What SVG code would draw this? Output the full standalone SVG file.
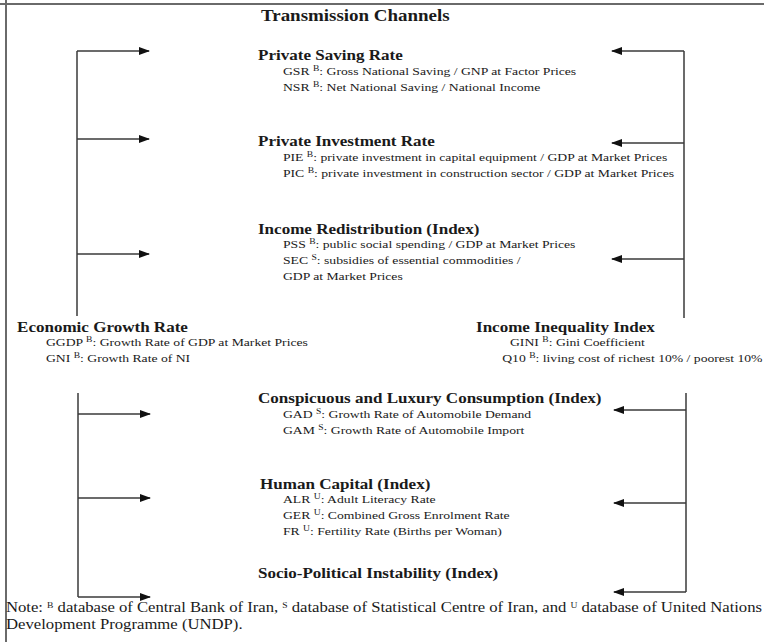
<svg xmlns="http://www.w3.org/2000/svg" width="764" height="642" viewBox="0 0 764 642">
<style>
text{font-family:"Liberation Serif","Times New Roman",serif;fill:#1a1a1a}
.t{font-size:15.8px;font-weight:bold}
.h{font-size:14.2px;font-weight:bold}
.s{font-size:11.4px}
.n{font-size:13.9px}
.sup{font-size:8px}
.ln{stroke:#3a3a3a;stroke-width:1.5;fill:none}
.ar{stroke:#3a3a3a;stroke-width:1.5;fill:none;marker-end:url(#ah)}
.bd{stroke:#6a6a6a;stroke-width:2;fill:none}
</style>
<defs>
<marker id="ah" markerUnits="userSpaceOnUse" markerWidth="11" markerHeight="9" refX="10" refY="4.5" orient="auto">
<path d="M0,0.5 L11,4.5 L0,8.5 z" fill="#111"/>
</marker>
</defs>
<rect width="764" height="642" fill="#fff"/>
<g id="border">
<path class="bd" d="M0,4 H764"/>
<path class="bd" d="M6,0 V642"/>
</g>
<g id="connectors">
<path class="ln" d="M77,51 V316"/>
<path class="ar" d="M77,51 H149"/>
<path class="ar" d="M77,139 H149"/>
<path class="ar" d="M77,254 H149"/>
<path class="ln" d="M684,51 V318"/>
<path class="ar" d="M684,51 H612"/>
<path class="ar" d="M684,143 H612"/>
<path class="ar" d="M684,259 H612"/>
<path class="ln" d="M78,393 V597"/>
<path class="ar" d="M78,414 H150"/>
<path class="ar" d="M78,498 H150"/>
<path class="ar" d="M78,597 H150"/>
<path class="ln" d="M686,393 V592"/>
<path class="ar" d="M686,410 H614"/>
<path class="ar" d="M686,503 H614"/>
<path class="ar" d="M686,592 H614"/>
</g>
<g id="title" transform="scale(1.2 1)">
<text class="t" x="217.5" y="21">Transmission Channels</text>
</g>
<g id="private-saving" transform="scale(1.2 1)">
<text class="h" x="215" y="60">Private Saving Rate</text>
<text class="s" x="235.8" y="75">GSR <tspan class="sup" dy="-4">B</tspan><tspan dy="4">: Gross National Saving  / GNP at Factor Prices</tspan></text>
<text class="s" x="235.8" y="91">NSR <tspan class="sup" dy="-4">B</tspan><tspan dy="4">: Net National Saving / National Income</tspan></text>
</g>
<g id="private-investment" transform="scale(1.2 1)">
<text class="h" x="215" y="146">Private Investment Rate</text>
<text class="s" x="235.8" y="161">PIE <tspan class="sup" dy="-4">B</tspan><tspan dy="4">: private investment in capital equipment / GDP at Market Prices</tspan></text>
<text class="s" x="235.8" y="177">PIC <tspan class="sup" dy="-4">B</tspan><tspan dy="4">: private investment in construction sector / GDP at Market Prices</tspan></text>
</g>
<g id="income-redistribution" transform="scale(1.2 1)">
<text class="h" x="215" y="234">Income Redistribution (Index)</text>
<text class="s" x="235.8" y="248">PSS <tspan class="sup" dy="-4">B</tspan><tspan dy="4">: public social spending / GDP at Market Prices</tspan></text>
<text class="s" x="235.8" y="264">SEC <tspan class="sup" dy="-4">S</tspan><tspan dy="4">: subsidies of essential commodities /</tspan></text>
<text class="s" x="235.8" y="280">GDP at Market Prices</text>
</g>
<g id="economic-growth" transform="scale(1.2 1)">
<text class="h" x="14.2" y="332">Economic Growth Rate</text>
<text class="s" x="38.3" y="346">GGDP <tspan class="sup" dy="-4">B</tspan><tspan dy="4">: Growth Rate of GDP at Market Prices</tspan></text>
<text class="s" x="38.3" y="362">GNI <tspan class="sup" dy="-4">B</tspan><tspan dy="4">: Growth Rate of NI</tspan></text>
</g>
<g id="income-inequality" transform="scale(1.2 1)">
<text class="h" x="396.7" y="332">Income Inequality Index</text>
<text class="s" x="425" y="346">GINI <tspan class="sup" dy="-4">B</tspan><tspan dy="4">: Gini Coefficient</tspan></text>
<text class="s" x="418.5" y="362">Q10 <tspan class="sup" dy="-4">B</tspan><tspan dy="4">: living cost of richest 10% / poorest 10%</tspan></text>
</g>
<g id="conspicuous-consumption" transform="scale(1.2 1)">
<text class="h" x="215" y="403">Conspicuous and Luxury Consumption (Index)</text>
<text class="s" x="235.8" y="418">GAD <tspan class="sup" dy="-4">S</tspan><tspan dy="4">: Growth Rate of Automobile Demand</tspan></text>
<text class="s" x="235.8" y="434">GAM <tspan class="sup" dy="-4">S</tspan><tspan dy="4">: Growth Rate of Automobile Import</tspan></text>
</g>
<g id="human-capital" transform="scale(1.2 1)">
<text class="h" x="216.7" y="489">Human Capital (Index)</text>
<text class="s" x="235.8" y="503">ALR <tspan class="sup" dy="-4">U</tspan><tspan dy="4">: Adult Literacy Rate</tspan></text>
<text class="s" x="235.8" y="519">GER <tspan class="sup" dy="-4">U</tspan><tspan dy="4">: Combined Gross Enrolment Rate</tspan></text>
<text class="s" x="235.8" y="535">FR <tspan class="sup" dy="-4">U</tspan><tspan dy="4">: Fertility Rate (Births per Woman)</tspan></text>
</g>
<g id="socio-political" transform="scale(1.2 1)">
<text class="h" x="215" y="578">Socio-Political Instability (Index)</text>
</g>
<g id="note" transform="scale(1.2 1)">
<text class="n" x="5" y="612" textLength="630" lengthAdjust="spacing">Note: <tspan class="sup" font-size="9px" dy="-4">B</tspan><tspan dy="4"> database of Central Bank of Iran, </tspan><tspan class="sup" font-size="9px" dy="-4">S</tspan><tspan dy="4"> database of Statistical Centre of Iran, and </tspan><tspan class="sup" font-size="9px" dy="-4">U</tspan><tspan dy="4"> database of United Nations</tspan></text>
<text class="n" x="5" y="629">Development Programme (UNDP).</text>
</g>
</svg>
